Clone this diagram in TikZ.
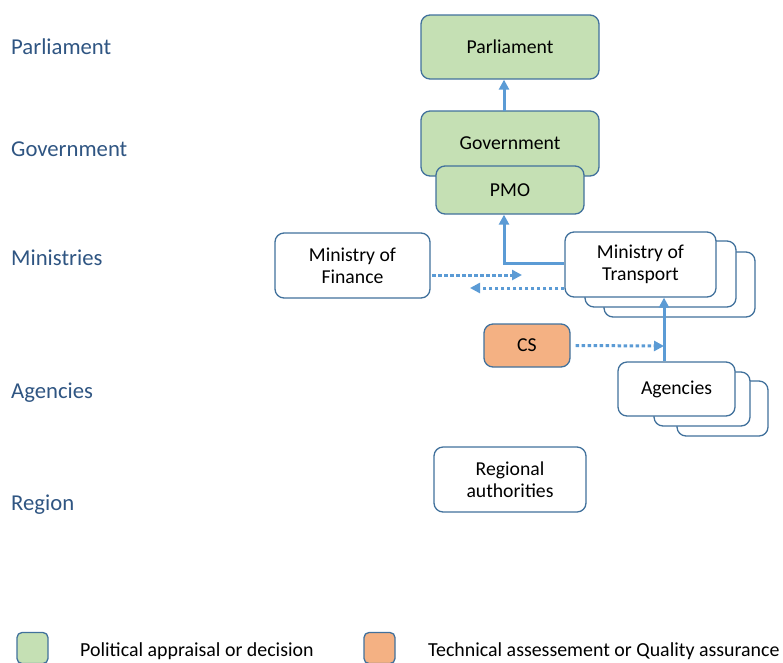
\documentclass[tikz,border=0pt]{standalone}
\usepackage{fontspec}
\setmainfont{Carlito}
\usetikzlibrary{arrows.meta}
\definecolor{boxline}{RGB}{65,113,156}
\definecolor{arrowblue}{RGB}{91,155,213}
\definecolor{greenfill}{RGB}{197,224,180}
\definecolor{orangefill}{RGB}{244,177,131}
\definecolor{leveltext}{RGB}{47,85,130}
\def\boxfont{\fontsize{19.7}{22}\selectfont}

\begin{document}
\begin{tikzpicture}[x=1pt,y=-1pt,>={Triangle[length=10pt,width=10pt]}]
				\tikzstyle{unit}=[draw=boxline,line width=1.3pt,rounded corners=9pt,fill=white,inner sep=0pt,align=center,font=\boxfont]
				\tikzstyle{political}=[unit,fill=greenfill]
				\tikzstyle{technical}=[unit,fill=orangefill]
				\tikzstyle{level}=[anchor=west,inner sep=0pt,text=leveltext,font=\fontsize{22.7}{25}\selectfont]
				\tikzstyle{flow}=[draw=arrowblue,line width=3pt,->]
				\tikzstyle{loop}=[draw=arrowblue,line width=3pt,dash pattern=on 3.5pt off 2.5pt,->]
				\tikzstyle{legend}=[anchor=west,inner sep=0pt,font=\fontsize{19.9}{22}\selectfont]
				\useasboundingbox (0,0) rectangle (783,662);

			    % Levels
			    \node[level] (lParl) at (11,47) {Parliament};
			    \node[level] (lGov) at (11,149) {Government};
			    \node[level] (lMin) at (11,258) {Ministries};
			    \node[level] (lAg) at (11,393) {Agencies};
			    \node[level] (lReg) at (11,505) {Region};

			    % Political level
			    \node[political,minimum width=178pt,minimum height=64pt] (parl) at (510,47) {Parliament};
			    \node[political,minimum width=178pt,minimum height=65pt] (gov) at (510,143.5) {Government};
			    \node[political,minimum width=148pt,minimum height=48pt] (pmo) at (510,190) {PMO};

			    % Ministries
			    \node[unit,minimum width=155pt,minimum height=65pt] (mof) at (352.5,265.5) {Ministry of\\Finance};
			    \node[unit,minimum width=151pt,minimum height=65pt] (mot3) at (679.5,284.5) {};
			    \node[unit,minimum width=151pt,minimum height=66pt] (mot2) at (660.5,274) {};
			    \node[unit,minimum width=151pt,minimum height=65pt] (mot) at (640.5,264.5) {Ministry of\\Transport};

			    % Agencies
			    \node[technical,minimum width=86pt,minimum height=43pt] (cs) at (527,345.5) {CS};
			    \node[unit,minimum width=91pt,minimum height=55pt] (ag3) at (722.5,408.5) {};
			    \node[unit,minimum width=96pt,minimum height=54pt] (ag2) at (702,399) {};
			    \node[unit,minimum width=117pt,minimum height=54pt] (ag) at (676.5,389) {Agencies};

			    % Region
			    \node[unit,minimum width=152pt,minimum height=65pt] (reg) at (510,479.5) {Regional\\authorities};

			    % Connections
			    \coordinate (govtop) at (504,111);
			    \coordinate (csend) at (664,346);
			    \path[flow] (govtop) -- (govtop |- parl.south);
			    \path[flow] (mot.west |- 0,263) -| (pmo.south -| govtop);
			    \path[flow] (ag.north -| csend) -- (mot.south -| csend);
			    \path[loop] (432,275) -- (522,275);
			    \path[loop] (mot.west |- 0,288) -- (470,288);
			    \path[loop] (cs.east) ++(5,0) -- (csend);

			    % Legend
			    \node[political,rounded corners=5pt,minimum width=31pt,minimum height=31pt] (kpol) at (32.5,648) {};
			    \node[legend] (tpol) at (80,651) {Political appraisal or decision};
			    \node[technical,rounded corners=5pt,minimum width=31pt,minimum height=31pt] (ktec) at (379.5,648) {};
			    \node[legend] (ttec) at (428,651) {Technical assessement or Quality assurance};

			\end{tikzpicture}
\end{document}
